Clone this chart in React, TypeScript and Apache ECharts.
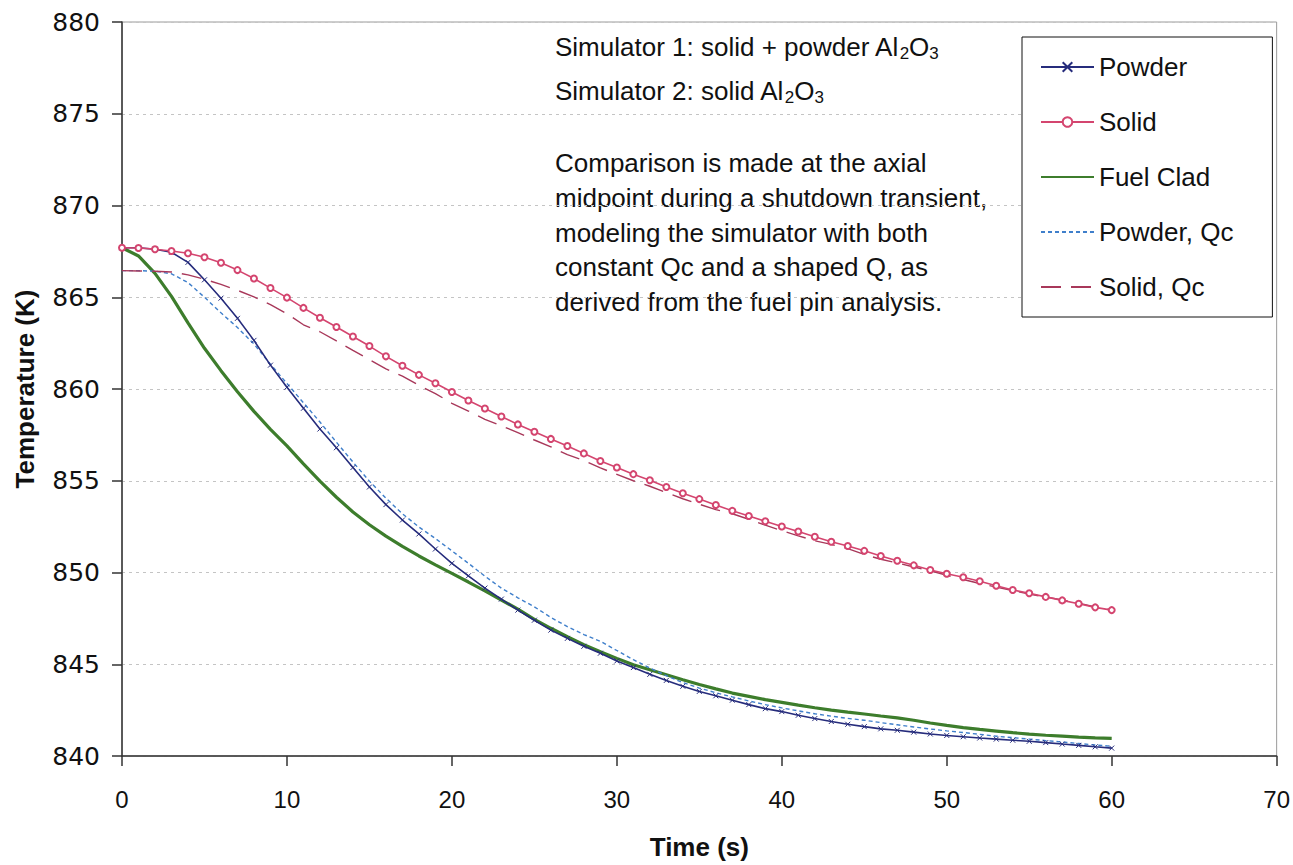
import React, { useEffect, useRef } from 'react';
import * as echarts from 'echarts';

const time = [0, 1, 2, 3, 4, 5, 6, 7, 8, 9, 10, 11, 12, 13, 14, 15, 16, 17, 18, 19, 20, 21, 22, 23, 24, 25, 26, 27, 28, 29, 30, 31, 32, 33, 34, 35, 36, 37, 38, 39, 40, 41, 42, 43, 44, 45, 46, 47, 48, 49, 50, 51, 52, 53, 54, 55, 56, 57, 58, 59, 60];

const powder = [867.7, 867.7, 867.62, 867.45, 866.9, 865.95, 864.95, 863.85, 862.65, 861.3, 860.1,
  858.95, 857.82, 856.8, 855.72, 854.66, 853.7, 852.86, 852.1, 851.28, 850.5,
  849.82, 849.15, 848.55, 847.95, 847.4, 846.86, 846.41, 845.98, 845.6, 845.18,
  844.82, 844.45, 844.12, 843.8, 843.52, 843.28, 843.04, 842.8, 842.58, 842.42,
  842.22, 842.04, 841.88, 841.73, 841.6, 841.48, 841.4, 841.3, 841.2, 841.12,
  841.05, 840.98, 840.92, 840.86, 840.8, 840.73, 840.65, 840.58, 840.5, 840.43];

const solid = [867.7, 867.68, 867.62, 867.52, 867.4, 867.18, 866.88, 866.48, 866.02, 865.5, 864.98,
  864.42, 863.88, 863.38, 862.86, 862.34, 861.78, 861.27, 860.77, 860.31, 859.84,
  859.37, 858.94, 858.5, 858.07, 857.67, 857.28, 856.89, 856.49, 856.08, 855.72,
  855.36, 855.03, 854.66, 854.32, 854.0, 853.68, 853.36, 853.08, 852.79, 852.51,
  852.23, 851.95, 851.68, 851.44, 851.18, 850.9, 850.64, 850.39, 850.14, 849.93,
  849.74, 849.52, 849.28, 849.05, 848.87, 848.67, 848.48, 848.3, 848.1, 847.95];

const fuelClad = [867.7, 867.25, 866.3, 865.05, 863.6, 862.22, 861.0, 859.85, 858.78, 857.8, 856.9,
  855.92, 854.98, 854.1, 853.3, 852.6, 851.98, 851.42, 850.9, 850.42, 849.95,
  849.48, 849.0, 848.5, 848.0, 847.45, 846.96, 846.5, 846.07, 845.68, 845.32,
  844.97, 844.7, 844.43, 844.16, 843.9, 843.66, 843.43, 843.25, 843.07, 842.92,
  842.77, 842.63, 842.5, 842.39, 842.29, 842.18, 842.08, 841.95, 841.8, 841.67,
  841.55, 841.45, 841.36, 841.27, 841.19, 841.13, 841.08, 841.03, 840.99, 840.96];

const powderQc = [866.45, 866.45, 866.42, 866.28, 865.8, 865.0, 864.15, 863.35, 862.45, 861.35, 860.3,
  859.25, 858.2, 857.1, 856.02, 854.98, 854.05, 853.2, 852.48, 851.85, 851.18,
  850.5, 849.8, 849.15, 848.62, 848.13, 847.55, 847.05, 846.62, 846.25, 845.75,
  845.25, 844.8, 844.38, 844.0, 843.7, 843.45, 843.22, 843.0, 842.8, 842.62,
  842.46, 842.3, 842.17, 842.05, 841.95, 841.82, 841.7, 841.58, 841.47, 841.37,
  841.28, 841.18, 841.08, 841.0, 840.92, 840.84, 840.76, 840.68, 840.6, 840.53];

const solidQc = [866.45, 866.43, 866.42, 866.38, 866.22, 865.98, 865.7, 865.38, 865.02, 864.6, 864.1,
  863.5, 863.12, 862.62, 862.1, 861.6, 861.1, 860.7, 860.2, 859.75, 859.22,
  858.8, 858.35, 858.0, 857.62, 857.22, 856.85, 856.42, 856.1, 855.7, 855.35,
  855.0, 854.7, 854.35, 854.02, 853.72, 853.43, 853.2, 852.9, 852.58, 852.28,
  852.0, 851.73, 851.53, 851.3, 850.98, 850.72, 850.52, 850.3, 850.1, 849.85,
  849.62, 849.4, 849.2, 849.02, 848.82, 848.67, 848.5, 848.33, 848.12, 847.95];

const seriesNames = ['Powder', 'Solid', 'Fuel Clad', 'Powder, Qc', 'Solid, Qc'];

const noteLines = [
  'Comparison is made at the axial',
  'midpoint during a shutdown transient,',
  'modeling the simulator with both',
  'constant Qc and a shaped Q, as',
  'derived from the fuel pin analysis.',
];

const SANS = '"Liberation Sans", Arial, Helvetica, sans-serif';
const NAVY = '#262c7c';
const PINK = '#d4456f';
const GREEN = '#3d7d2c';
const LIGHTBLUE = '#3f7fcb';
const MAROON = '#a8385a';

export default function App() {
  const ref = useRef<HTMLDivElement>(null);

  useEffect(() => {
    const chart = echarts.init(ref.current as HTMLDivElement, null, { renderer: 'svg' });
    const pair = (vals: number[]) => time.map((t, i) => [t, vals[i]]);

    const subRich = {
      n: { fontSize: 26, fontFamily: SANS, fill: '#111' },
      s: { fontSize: 17, fontFamily: SANS, fill: '#111', padding: [12, 0, 0, 0] },
    };

    const noteY = [163, 198, 233, 267, 302];
    const hiddenSymbol = { opacity: 0 };

    chart.setOption({
      animation: false,
      backgroundColor: '#ffffff',
      grid: {
        left: 122,
        right: 16,
        top: 22,
        bottom: 105,
        show: true,
        borderColor: '#9a9a9a',
        borderWidth: 1,
        backgroundColor: 'transparent',
      },
      xAxis: {
        type: 'value',
        min: 0,
        max: 70,
        interval: 10,
        axisLine: { show: true, onZero: false, lineStyle: { color: '#333', width: 1.5 } },
        axisTick: { show: true, length: 10, lineStyle: { color: '#333', width: 1.5 } },
        axisLabel: { fontSize: 24, fontFamily: SANS, color: '#111', margin: 31 },
        splitLine: { show: false },
        name: 'Time (s)',
        nameLocation: 'middle',
        nameGap: 78,
        nameTextStyle: { fontSize: 26, fontWeight: 'bold', fontFamily: SANS, color: '#111' },
      },
      yAxis: {
        type: 'value',
        min: 840,
        max: 880,
        interval: 5,
        axisLine: { show: true, onZero: false, lineStyle: { color: '#333', width: 1.5 } },
        axisTick: { show: true, length: 10, lineStyle: { color: '#333', width: 1.5 } },
        axisLabel: { fontSize: 25, fontFamily: '"DejaVu Sans", sans-serif', color: '#111', margin: 22 },
        splitLine: { show: true, lineStyle: { type: [3, 4], color: '#c4c4c4', width: 1.2 } },
        name: 'Temperature (K)',
        nameLocation: 'middle',
        nameGap: 84,
        nameTextStyle: { fontSize: 26, fontWeight: 'bold', fontFamily: SANS, color: '#111' },
      },
      legend: {
        orient: 'vertical',
        left: 1022,
        top: 37,
        itemWidth: 53,
        itemHeight: 12,
        itemGap: 29,
        padding: [17, 39, 17, 18],
        borderColor: '#111',
        borderWidth: 1,
        backgroundColor: '#fff',
        textStyle: { fontSize: 26, fontFamily: SANS, color: '#111' },
        data: [
          { name: seriesNames[0] },
          { name: seriesNames[1] },
          { name: seriesNames[2], itemStyle: hiddenSymbol },
          { name: seriesNames[3], itemStyle: hiddenSymbol },
          { name: seriesNames[4], itemStyle: hiddenSymbol },
        ],
      },
      graphic: [
        {
          type: 'text',
          x: 555,
          y: 47,
          style: {
            text: '{n|Simulator 1: solid + powder Al}{s|2}{n|O}{s|3}',
            rich: subRich,
            fill: '#111',
            verticalAlign: 'middle',
          },
        },
        {
          type: 'text',
          x: 555,
          y: 91,
          style: {
            text: '{n|Simulator 2: solid Al}{s|2}{n|O}{s|3}',
            rich: subRich,
            fill: '#111',
            verticalAlign: 'middle',
          },
        },
        ...noteLines.map((t, i) => ({
          type: 'text',
          x: 555,
          y: noteY[i],
          style: {
            text: t,
            fontSize: 26,
            fontFamily: SANS,
            fill: '#111',
            verticalAlign: 'middle',
          },
        })),
      ],
      series: [
        {
          name: seriesNames[0],
          type: 'line',
          data: pair(powder),
          symbol: 'path://M0,0L10,10M10,0L0,10',
          symbolSize: 5,
          showAllSymbol: true,
          lineStyle: { color: NAVY, width: 1.6 },
          itemStyle: { color: NAVY, borderColor: NAVY, borderWidth: 1 },
          z: 3,
        },
        {
          name: seriesNames[1],
          type: 'line',
          data: pair(solid),
          symbol: 'emptyCircle',
          symbolSize: 6,
          showAllSymbol: true,
          lineStyle: { color: PINK, width: 1.6 },
          itemStyle: { color: PINK, borderColor: PINK, borderWidth: 1.2 },
          z: 3,
        },
        {
          name: seriesNames[2],
          type: 'line',
          data: pair(fuelClad),
          symbol: 'none',
          lineStyle: { color: GREEN, width: 3.2 },
          itemStyle: { color: GREEN },
          z: 2,
        },
        {
          name: seriesNames[3],
          type: 'line',
          data: pair(powderQc),
          symbol: 'none',
          lineStyle: { color: LIGHTBLUE, width: 1.4, type: [4, 3] },
          itemStyle: { color: LIGHTBLUE },
          z: 2,
        },
        {
          name: seriesNames[4],
          type: 'line',
          data: pair(solidQc),
          symbol: 'none',
          lineStyle: { color: MAROON, width: 1.4, type: [20, 10] },
          itemStyle: { color: MAROON },
          z: 2,
        },
      ],
    });

    return () => chart.dispose();
  }, []);

  return (
    <div
      ref={ref}
      style={{ position: 'fixed', left: 0, top: 0, width: 1293, height: 865, background: '#fff' }}
    />
  );
}
